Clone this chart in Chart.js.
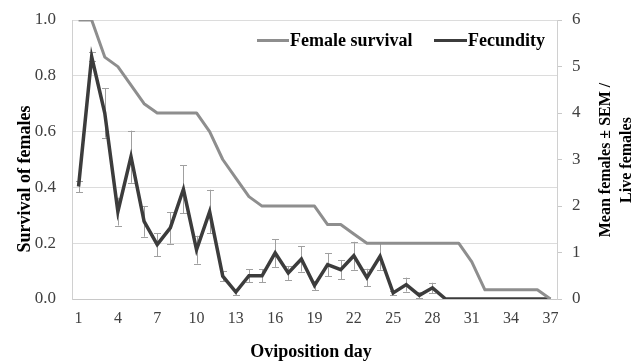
<!DOCTYPE html>
<html><head><meta charset="utf-8">
<script src="https://cdn.jsdelivr.net/npm/chart.js@4/dist/chart.umd.min.js"></script>
<style>html,body{margin:0;padding:0;background:#fff}</style>
</head><body>
<canvas id="c" width="644" height="363"></canvas>
<script>
const days = [1,2,3,4,5,6,7,8,9,10,11,12,13,14,15,16,17,18,19,20,21,22,23,24,25,26,27,28,29,30,31,32,33,34,35,36,37];
const xTickLabels = [1,4,7,10,13,16,19,22,25,28,31,34,37];
const survival = [1.0,1.0,0.867,0.833,0.767,0.7,0.667,0.667,0.667,0.667,0.6,0.5,0.433,0.367,0.333,0.333,0.333,0.333,0.333,0.267,0.267,0.233,0.2,0.2,0.2,0.2,0.2,0.2,0.2,0.2,0.133,0.033,0.033,0.033,0.033,0.033,0];
const fecundity = [2.42,5.21,4.0,1.88,3.06,1.67,1.17,1.53,2.36,1.06,1.88,0.49,0.15,0.5,0.5,0.99,0.56,0.86,0.29,0.74,0.63,0.93,0.46,0.92,0.13,0.31,0.08,0.24,0,0,0,0,0,0,0,0,0];
const fecunditySEM = [0.12,0.1,0.53,0.3,0.56,0.33,0.25,0.34,0.52,0.3,0.47,0.11,0.07,0.14,0.14,0.3,0.15,0.27,0.1,0.25,0.21,0.3,0.19,0.29,0.05,0.15,0.06,0.11,0,0,0,0,0,0,0,0,0];
const seriesNames = ['Female survival','Fecundity'];
const xTitle = 'Oviposition day';
const yTitle = 'Survival of females';
const y2Title = ['Mean females \u00b1 SEM /','Live females'];

const SERIF = "'Liberation Serif','Times New Roman',serif";
const survColor = '#8e8e8e';
const fecColor = '#3c3c3c';

const errorBars = {
  id: 'errorBars',
  beforeDatasetsDraw(chart) {
    const ctx = chart.ctx, xs = chart.scales.x, ys = chart.scales.y1;
    ctx.save();
    ctx.strokeStyle = '#a0a0a0';
    ctx.lineWidth = 1;
    fecundity.forEach((v, i) => {
      const s = fecunditySEM[i];
      if (!s) return;
      const x = Math.round(xs.getPixelForValue(i)) + 0.5;
      const yt = ys.getPixelForValue(v + s), yb = ys.getPixelForValue(Math.max(0, v - s));
      ctx.beginPath();
      ctx.moveTo(x, yt); ctx.lineTo(x, yb);
      ctx.moveTo(x - 3.5, Math.round(yt) + 0.5); ctx.lineTo(x + 3.5, Math.round(yt) + 0.5);
      ctx.moveTo(x - 3.5, Math.round(yb) + 0.5); ctx.lineTo(x + 3.5, Math.round(yb) + 0.5);
      ctx.stroke();
    });
    ctx.restore();
  }
};

const annotations = {
  id: 'annotations',
  afterDraw(chart) {
    const ctx = chart.ctx;
    ctx.save();
    ctx.fillStyle = '#000';
    ctx.font = 'bold 18px ' + SERIF;
    ctx.textBaseline = 'middle';
    ctx.textAlign = 'center';
    ctx.fillText(xTitle, 311, 352);
    ctx.save();
    ctx.translate(25, 179);
    ctx.rotate(-Math.PI / 2);
    ctx.fillText(yTitle, 0, 0);
    ctx.restore();
    ctx.save();
    ctx.translate(606, 160);
    ctx.rotate(-Math.PI / 2);
    ctx.font = 'bold 16px ' + SERIF;
    ctx.fillText(y2Title[0], 0, 0);
    ctx.fillText(y2Title[1], 0, 21);
    ctx.restore();
    const items = [[257, 289, survColor, seriesNames[0]], [434, 467, fecColor, seriesNames[1]]];
    ctx.textAlign = 'left';
    items.forEach(([x0, x1, c, t]) => {
      ctx.strokeStyle = c; ctx.lineWidth = 3;
      ctx.beginPath(); ctx.moveTo(x0, 40.5); ctx.lineTo(x1, 40.5); ctx.stroke();
      ctx.fillText(t, x1 + 1, 41);
    });
    ctx.restore();
  }
};

new Chart(document.getElementById('c'), {
  type: 'line',
  data: {
    labels: days,
    datasets: [
      { label: seriesNames[0], data: survival, yAxisID: 'y', borderColor: survColor, borderWidth: 3, pointRadius: 0, tension: 0, fill: false, borderJoinStyle: 'round' },
      { label: seriesNames[1], data: fecundity, yAxisID: 'y1', borderColor: fecColor, borderWidth: 3.5, pointRadius: 0, tension: 0, fill: false, borderJoinStyle: 'miter' }
    ]
  },
  options: {
    responsive: false,
    animation: false,
    devicePixelRatio: 1,
    layout: { padding: { top: 20, left: 0, right: 0, bottom: 0 } },
    plugins: { legend: { display: false }, tooltip: { enabled: false } },
    scales: {
      x: {
        type: 'category',
        offset: true,
        grid: { display: false, drawTicks: false },
        border: { display: true, color: '#c8c8c8', width: 1 },
        ticks: {
          autoSkip: false, maxRotation: 0, padding: 10, color: '#404040',
          font: { family: SERIF, size: 16 },
          callback(v, i) { const d = days[i]; return xTickLabels.includes(d) ? String(d) : ''; }
        },
        afterFit(s) { s.height = 64; }
      },
      y: {
        position: 'left', min: 0, max: 1,
        grid: { color: '#dcdcdc', drawTicks: false },
        border: { display: true, color: '#d0d0d0' },
        ticks: { stepSize: 0.2, padding: 16, color: '#404040', font: { family: SERIF, size: 17 }, callback: v => v.toFixed(1) },
        afterFit(s) { s.width = 72; s.paddingTop = 0; s.paddingBottom = 0; }
      },
      y1: {
        position: 'right', min: 0, max: 6,
        grid: { drawOnChartArea: false, drawTicks: true, tickLength: 5, color: '#c8c8c8' },
        border: { display: true, color: '#d0d0d0' },
        ticks: { stepSize: 1, padding: 10, color: '#404040', font: { family: SERIF, size: 17 } },
        afterFit(s) { s.width = 87; s.paddingTop = 0; s.paddingBottom = 0; }
      }
    }
  },
  plugins: [errorBars, annotations]
});
</script>
</body></html>
